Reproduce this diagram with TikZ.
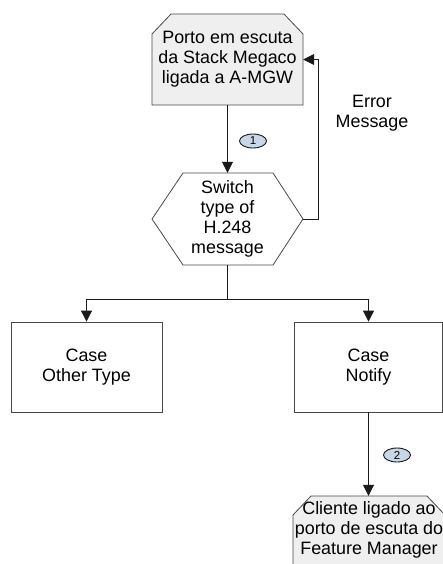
\documentclass[tikz,border=0pt]{standalone}
\usepackage{fontspec}
\setmainfont{Liberation Sans}
\usetikzlibrary{arrows.meta,shapes.geometric}

\definecolor{boxfill}{HTML}{EFEFEF}
\definecolor{tagfill}{HTML}{C8D7E8}
\definecolor{edge}{HTML}{1A1A1A}

\begin{document}
\begin{tikzpicture}[x=1pt,y=-1pt,
  txt/.style={font=\fontsize{17.9}{20}\selectfont, align=center, text=black, inner sep=0pt},
  flow/.style={draw=edge, line width=0.8pt, -{Triangle[length=11pt,width=11pt]}},
  plain/.style={draw=edge, line width=0.8pt},
  outline/.style={draw=edge!80, line width=0.8pt},
  tag/.style={ellipse, draw=edge, line width=0.9pt, fill=tagfill, minimum width=27pt,
              minimum height=14pt, inner sep=0pt, font=\fontsize{11.5}{11.5}\selectfont}]

\useasboundingbox (0,0) rectangle (443,564);
\clip (0,0) rectangle (443,564);

% chamfered listening-port box, hexagonal switch, chamfered client box
\path[outline, fill=boxfill] (152,105) -- (152,34) -- (171,14) -- (284,14)
  -- (303,34) -- (303,105) -- cycle;
\path[outline] (152,219) -- (183,173) -- (273,173) -- (303,219)
  -- (273,265) -- (183,265) -- cycle;
\path[outline, fill=boxfill] (293,580) -- (293,515) -- (311,496) -- (427,496)
  -- (445,515) -- (445,580);

% nodes
\node[txt, minimum width=151pt, minimum height=91pt] (port) at (227.5,59.5)
  {Porto em escuta\\da Stack Megaco\\ligada a A-MGW};
\node[txt, minimum width=151pt, minimum height=92pt] (sw) at (227.5,219)
  {Switch\\type of\\H.248\\message};
\node[txt, draw=edge!80, line width=0.8pt, minimum width=151pt, minimum height=90pt]
  (other) at (86.5,367) {Case\\Other Type};
\node[txt, draw=edge!80, line width=0.8pt, minimum width=148pt, minimum height=90pt]
  (notify) at (368.5,367) {Case\\Notify};
\node[txt, minimum width=152pt, minimum height=68pt] (client) at (369,530)
  {Cliente ligado ao\\porto de escuta do\\Feature Manager};
\node[txt] (err) at (372,113) {Error\\Message};

% connectors
\draw[flow] (port.south) -- (sw.north);
\draw[flow] (sw.east) -- ++(15,0) |- (port.east);
\draw[plain] (sw.south) -- ++(0,34) coordinate (split);
\draw[flow] (split) -| (other.north);
\draw[flow] (split) -| (notify.north);
\draw[flow] (notify.south) -- (notify.south |- client.north);

% step markers
\node[tag] (m1) at (253,141) {1};
\node[tag] (m2) at (397,455) {2};
\end{tikzpicture}
\end{document}
